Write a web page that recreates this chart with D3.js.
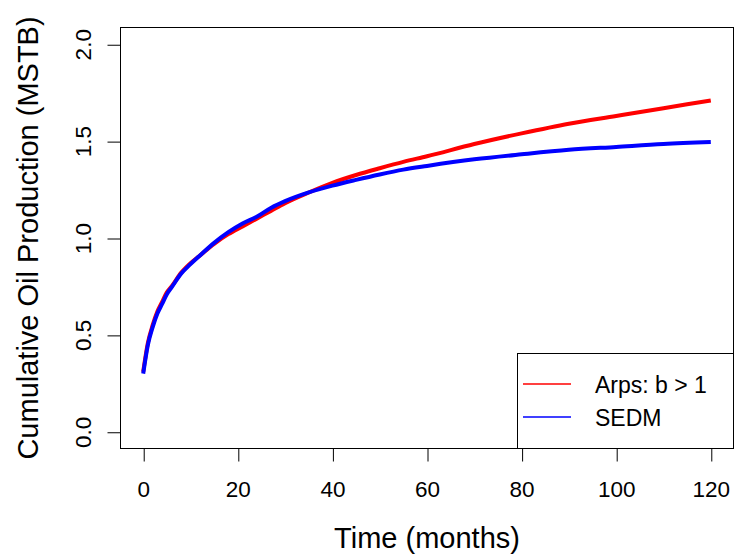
<!DOCTYPE html>
<html>
<head>
<meta charset="utf-8">
<script src="https://cdn.jsdelivr.net/npm/d3@7"></script>
<style>
  body { margin: 0; background: #fff; }
  svg text { font-family: "Liberation Sans", Arial, sans-serif; fill: #000; }
</style>
</head>
<body>
<svg id="chart" width="735" height="557"></svg>
<script>
const months = [0, 1, 2, 3, 4, 5, 6, 8, 10, 12, 15, 18, 21, 24, 27, 30, 35, 40, 45, 50, 55, 60, 70, 80, 90, 100, 110, 120];
const arpsValues = [0.31, 0.46, 0.55, 0.62, 0.67, 0.72, 0.75, 0.82, 0.87, 0.91, 0.97, 1.02, 1.06, 1.10, 1.14, 1.18, 1.235, 1.285, 1.325, 1.36, 1.393, 1.422, 1.485, 1.54, 1.59, 1.63, 1.67, 1.71];
const sedmValues = [0.30, 0.45, 0.54, 0.61, 0.66, 0.71, 0.745, 0.815, 0.865, 0.91, 0.975, 1.03, 1.075, 1.11, 1.155, 1.19, 1.235, 1.27, 1.30, 1.328, 1.353, 1.372, 1.406, 1.432, 1.455, 1.47, 1.485, 1.495];
const xTicks = [0, 20, 40, 60, 80, 100, 120];
const yTicks = [0, 0.5, 1, 1.5, 2];
const seriesNames = ["Arps: b > 1", "SEDM"];
const seriesColors = ["#ff0000", "#0000ff"];

const svg = d3.select("#chart");
const box = { left: 120.5, right: 733.5, top: 27.5, bottom: 448.5 };

const x = d3.scaleLinear().domain([-4.8, 124.8]).range([box.left, box.right]);
const y = d3.scaleLinear().domain([-0.0864, 2.0864]).range([box.bottom, box.top]);

// plot frame
svg.append("rect")
  .attr("x", box.left).attr("y", box.top)
  .attr("width", box.right - box.left).attr("height", box.bottom - box.top)
  .attr("fill", "none").attr("stroke", "#000").attr("stroke-width", 1);

// x axis
const xAxis = svg.append("g")
  .attr("transform", `translate(0,${box.bottom})`)
  .call(d3.axisBottom(x).tickValues(xTicks).tickSize(13).tickSizeOuter(0));
xAxis.select(".domain").remove();
xAxis.selectAll(".tick line").attr("stroke", "#000").attr("transform", "translate(0.5,0)");
xAxis.selectAll(".tick text")
  .attr("font-size", "22.5px")
  .attr("font-family", "Liberation Sans, Arial, sans-serif")
  .attr("dy", null).attr("y", 48);

// y axis
const yAxis = svg.append("g")
  .attr("transform", `translate(${box.left},0)`)
  .call(d3.axisLeft(y).tickValues(yTicks).tickSize(13).tickSizeOuter(0).tickFormat(d3.format(".1f")));
yAxis.select(".domain").remove();
yAxis.selectAll(".tick line").attr("stroke", "#000").attr("transform", "translate(0,0.5)");
yAxis.selectAll(".tick text")
  .attr("font-size", "22.5px")
  .attr("font-family", "Liberation Sans, Arial, sans-serif")
  .attr("x", null).attr("dy", null)
  .attr("text-anchor", "middle")
  .attr("transform", "translate(-30,0) rotate(-90)");

// axis titles
svg.append("text")
  .attr("x", (box.left + box.right) / 2).attr("y", 548)
  .attr("text-anchor", "middle").attr("font-size", "29px")
  .text("Time (months)");
svg.append("text")
  .attr("transform", `translate(38,${(box.top + box.bottom) / 2}) rotate(-90)`)
  .attr("text-anchor", "middle").attr("font-size", "29px")
  .text("Cumulative Oil Production (MSTB)");

// curves
const line = d3.line()
  .x(d => x(d[0]))
  .y(d => y(d[1]))
  .curve(d3.curveMonotoneX);

[arpsValues, sedmValues].forEach((vals, i) => {
  svg.append("path")
    .datum(months.map((m, j) => [m, vals[j]]))
    .attr("fill", "none")
    .attr("stroke", seriesColors[i])
    .attr("stroke-width", 4)
    .attr("d", line);
});

// legend
const legend = svg.append("g");
legend.append("rect")
  .attr("x", 517.5).attr("y", 353.5)
  .attr("width", box.right - 517.5).attr("height", box.bottom - 353.5)
  .attr("fill", "#fff").attr("stroke", "#000").attr("stroke-width", 1);
seriesNames.forEach((name, i) => {
  const ly = 384 + i * 33;
  legend.append("line")
    .attr("x1", 523).attr("x2", 571)
    .attr("y1", ly).attr("y2", ly)
    .attr("stroke", seriesColors[i]).attr("stroke-width", 1.3);
  legend.append("text")
    .attr("x", 595).attr("y", ly + 9)
    .attr("font-size", "23px")
    .text(name);
});
</script>
</body>
</html>
